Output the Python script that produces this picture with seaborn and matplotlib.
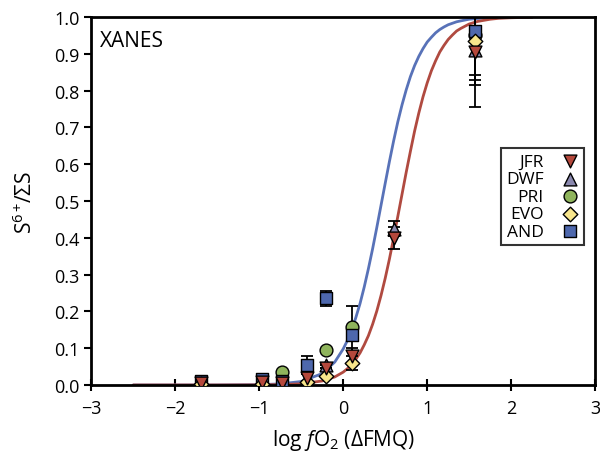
import numpy as np
import pandas as pd
import seaborn as sns
import matplotlib.pyplot as plt

# -----------------------------
# Data
# -----------------------------
curve_x = [-2.5, -2.0, -1.5, -1.0, -0.75, -0.5, -0.25, -0.1, 0.0, 0.05, 0.1, 0.15, 0.2, 0.25,
           0.3, 0.35, 0.4, 0.45, 0.5, 0.55, 0.6, 0.65, 0.7, 0.75, 0.8, 0.85, 0.9, 0.95, 1.0,
           1.05, 1.1, 1.15, 1.2, 1.25, 1.3, 1.35, 1.4, 1.5, 1.6, 1.75, 1.85, 2.0, 2.25]
blue_curve = [0.0, 0.0, 0.0001, 0.0009, 0.003, 0.0095, 0.031, 0.0625, 0.098, 0.121, 0.149, 0.183,
              0.221, 0.266, 0.316, 0.370, 0.428, 0.488, 0.548, 0.607, 0.663, 0.715, 0.761, 0.802,
              0.838, 0.868, 0.893, 0.914, 0.932, 0.945, 0.957, 0.966, 0.973, 0.979, 0.983, 0.987,
              0.9895, 0.994, 0.996, 0.998, 0.9988, 0.9994, 1.0]
red_curve = [0.0, 0.0, 0.0, 0.0003, 0.001, 0.0032, 0.011, 0.022, 0.035, 0.0444, 0.056, 0.070,
             0.087, 0.109, 0.134, 0.165, 0.201, 0.243, 0.290, 0.342, 0.399, 0.458, 0.518, 0.578,
             0.635, 0.690, 0.739, 0.783, 0.821, 0.854, 0.881, 0.905, 0.923, 0.939, 0.951, 0.962,
             0.969, 0.981, 0.988, 0.994, 0.9964, 0.998, 0.9994]

jfr_x = [-1.69, -0.97, -0.73, -0.43, -0.2, 0.1, 0.6, 1.57]
jfr_y = [0.005, 0.008, 0.005, 0.02, 0.045, 0.08, 0.40, 0.905]
jfr_err = [0.0, 0.0, 0.0, 0.01, 0.0, 0.02, 0.03, 0.15]

dwf_x = [-0.2, 0.6, 1.57]
dwf_y = [0.055, 0.425, 0.91]
dwf_err = [0.0, 0.02, 0.095]

pri_x = [-0.73, -0.2, 0.1, 1.57]
pri_y = [0.035, 0.095, 0.157, 0.95]
pri_err = [0.0, 0.0, 0.0, 0.0]

evo_x = [-1.69, -0.97, -0.43, -0.2, 0.1, 1.57]
evo_y = [0.003, 0.003, 0.008, 0.025, 0.06, 0.935]
evo_err = [0.0, 0.0, 0.0, 0.0, 0.02, 0.105]

and_x = [-1.69, -0.97, -0.73, -0.43, -0.2, 0.1, 1.57]
and_y = [0.012, 0.015, 0.01, 0.055, 0.236, 0.137, 0.963]
and_err = [0.0, 0.0, 0.0, 0.025, 0.02, 0.078, 0.12]

# -----------------------------
# Style
# -----------------------------
sns.set_style("ticks")
plt.rcParams["font.family"] = ["Open Sans", "DejaVu Sans"]
plt.rcParams["mathtext.fontset"] = "custom"
plt.rcParams["mathtext.rm"] = "Open Sans"
plt.rcParams["mathtext.it"] = "Open Sans:italic"
plt.rcParams["text.color"] = "black"
plt.rcParams["axes.labelcolor"] = "black"
plt.rcParams["xtick.color"] = "black"
plt.rcParams["ytick.color"] = "black"

# name, x, y, err, marker, colour, stacking order
series = [
    ("JFR", jfr_x, jfr_y, jfr_err, "v", "#b5483c", 4.5),
    ("DWF", dwf_x, dwf_y, dwf_err, "^", "#8a88ae", 4.2),
    ("PRI", pri_x, pri_y, pri_err, "o", "#8fb45c", 4.1),
    ("EVO", evo_x, evo_y, evo_err, "D", "#f8e68c", 4.4),
    ("AND", and_x, and_y, and_err, "s", "#4e68ad", 4.3),
]

fig = plt.figure(figsize=(6.0, 4.56), dpi=100)
ax = fig.add_axes([0.152, 0.1535, 0.84, 0.807])

curves = pd.DataFrame({"x": curve_x, "blue": blue_curve, "red": red_curve})
sns.lineplot(data=curves, x="x", y="blue", color="#5872b8", lw=2, ax=ax, zorder=2)
sns.lineplot(data=curves, x="x", y="red", color="#b04a40", lw=2, ax=ax, zorder=2)

for name, xs, ys, errs, mk, col, z in series:
    ax.errorbar(xs, ys, yerr=errs, fmt="none", ecolor="black", elinewidth=1.3,
                capsize=4, capthick=1.3, zorder=3)
for name, xs, ys, errs, mk, col, z in series:
    size = 55 if mk == "D" else 85
    sns.scatterplot(x=xs, y=ys, marker=mk, color=col, edgecolor="black", linewidth=1,
                    s=size, ax=ax, zorder=z, label=name)

ax.set_xlim(-3, 3)
ax.set_ylim(0, 1.0)
ax.set_xticks(np.arange(-3, 4, 1))
ax.set_yticks(np.arange(0, 1.01, 0.1))
ax.set_yticklabels([f"{v:.1f}" for v in np.arange(0, 1.01, 0.1)])
ax.tick_params(axis="x", direction="inout", length=8, width=1.5, labelsize=13, pad=6)
ax.tick_params(axis="y", direction="out", length=5, width=1.5, labelsize=13)
for sp in ax.spines.values():
    sp.set_linewidth(2)
    sp.set_color("black")

ax.set_xlabel(r"log $\it{f}$O$_2$ ($\Delta$FMQ)", fontsize=15, labelpad=7)
ax.set_ylabel(r"$\mathrm{S}^{6+}\!/\Sigma\mathrm{S}$", fontsize=15, labelpad=12)
ax.text(0.018, 0.965, "XANES", transform=ax.transAxes, fontsize=15, va="top", ha="left")

handles, labels = ax.get_legend_handles_labels()
order = ["JFR", "DWF", "PRI", "EVO", "AND"]
hmap = dict(zip(labels, handles))
leg = ax.legend([hmap[k] for k in order], order, loc="upper right",
                bbox_to_anchor=(0.977, 0.643), markerfirst=False, frameon=True,
                fancybox=False, edgecolor="black", fontsize=12.5, handletextpad=1.0,
                labelspacing=0.08, borderpad=0.3, handlelength=1.0, borderaxespad=0)
leg.get_frame().set_linewidth(1.5)

fig.savefig("out.png", dpi=100)
